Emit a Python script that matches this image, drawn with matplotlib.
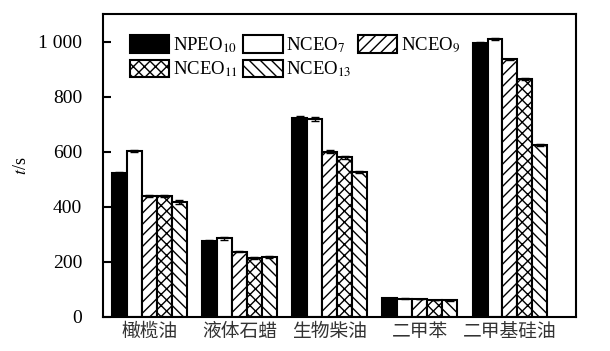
import matplotlib
matplotlib.use("Agg")
import matplotlib.pyplot as plt
import numpy as np

plt.rcParams['font.family'] = ['Liberation Serif', 'Noto Sans CJK SC']
plt.rcParams['hatch.linewidth'] = 1.0
plt.rcParams['mathtext.fontset'] = 'stix'

categories = ['橄榄油', '液体石蜡', '生物柴油', '二甲苯', '二甲基硅油']
series_names = ['NPEO$_{10}$', 'NCEO$_{7}$', 'NCEO$_{9}$', 'NCEO$_{11}$', 'NCEO$_{13}$']
npeo10 = [522, 275, 724, 68, 995]
nceo7 = [603, 285, 719, 67, 1010]
nceo9 = [440, 237, 600, 66, 935]
nceo11 = [438, 213, 580, 62, 865]
nceo13 = [418, 218, 527, 60, 625]
err_npeo10 = [4, 3, 4, 1, 3]
err_nceo7 = [5, 7, 6, 1, 3]
err_nceo9 = [4, 2, 5, 1, 3]
err_nceo11 = [4, 4, 6, 1, 3]
err_nceo13 = [7, 3, 3, 1, 3]
yticks = [0, 200, 400, 600, 800, 1000]
ytick_labels = ['0', '200', '400', '600', '800', '1 000']

values = [npeo10, nceo7, nceo9, nceo11, nceo13]
errors = [err_npeo10, err_nceo7, err_nceo9, err_nceo11, err_nceo13]
faces = ['black', 'white', 'white', 'white', 'white']
hatches = [None, None, '///', 'xxx', '\\\\\\']

fig = plt.figure(figsize=(6.10, 3.51), dpi=100)
ax = fig.add_axes([0.169, 0.097, 0.775, 0.863])

x = np.arange(len(categories))
w = 0.166
handles = []
for i, (v, e) in enumerate(zip(values, errors)):
    pos = x + (i - 2) * w
    b = ax.bar(pos, v, width=w, color=faces[i], edgecolor='black', linewidth=1.5,
               hatch=hatches[i], label=series_names[i], zorder=2)
    ax.errorbar(pos, v, yerr=e, fmt='none', ecolor='black', elinewidth=1.0,
                capsize=3, capthick=1.0, zorder=3)
    handles.append(b)

ax.set_xlim(-0.51, 4.73)
ax.set_ylim(0, 1100)
ax.set_yticks(yticks)
ax.set_yticklabels(ytick_labels, fontsize=14)
ax.set_xticks(x)
ax.set_xticklabels(categories, fontsize=13.5, family=['Noto Sans CJK SC'], color='#333333')
ax.tick_params(axis='y', direction='in', length=6, width=1.5, pad=15)
ax.tick_params(axis='x', length=0, pad=3)
for s in ax.spines.values():
    s.set_linewidth(1.5)
ax.set_ylabel('$t$/s', fontsize=13, labelpad=6)

order = [0, 3, 1, 4, 2]
leg = ax.legend([handles[k] for k in order], [series_names[k] for k in order],
                ncol=3, loc='upper left', bbox_to_anchor=(0.04, 0.955),
                frameon=False, fontsize=13.5, handlelength=2.1, handleheight=1.05,
                handletextpad=0.2, columnspacing=0.3, labelspacing=0.25,
                borderaxespad=0)

fig.savefig('out.png', dpi=100)
